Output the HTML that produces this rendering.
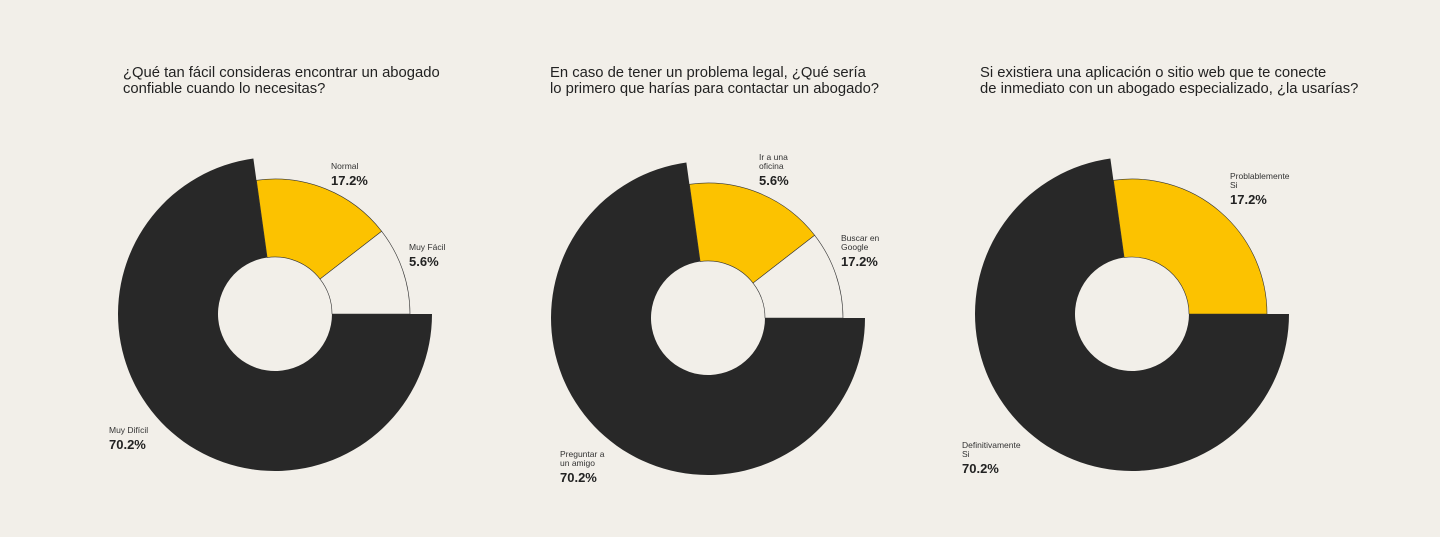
<!DOCTYPE html>
<html><head><meta charset="utf-8"><style>
html,body{margin:0;padding:0;background:#f2efe9;}
svg{display:block;font-family:"Liberation Sans",sans-serif;}
.t{font-size:14.8px;fill:#222;}
.s{font-size:8.5px;fill:#333;}
.v{font-size:13px;fill:#222;font-weight:bold;}
</style></head><body>
<svg id="c" width="1440" height="537" viewBox="0 0 1440 537">
<rect width="1440" height="537" fill="#f2efe9"/>
</svg>
<script>
const titles = [
 ["¿Qué tan fácil consideras encontrar un abogado","confiable cuando lo necesitas?"],
 ["En caso de tener un problema legal, ¿Qué sería","lo primero que harías para contactar un abogado?"],
 ["Si existiera una aplicación o sitio web que te conecte","de inmediato con un abogado especializado, ¿la usarías?"]
];
const weights1 = [72.8, 16.7, 10.5];
const weights2 = [72.8, 16.7, 10.5];
const weights3 = [72.8, 27.2];
const labels1 = [["Muy Difícil"],["Normal"],["Muy Fácil"]];
const labels2 = [["Preguntar a","un amigo"],["Ir a una","oficina"],["Buscar en","Google"]];
const labels3 = [["Definitivamente","Si"],["Problablemente","Si"]];
const values1 = ["70.2%","17.2%","5.6%"];
const values2 = ["70.2%","5.6%","17.2%"];
const values3 = ["70.2%","17.2%"];

const NS="http://www.w3.org/2000/svg";
const svg=document.getElementById('c');
function mk(tag,attrs,parent){const e=document.createElementNS(NS,tag);for(const k in attrs)e.setAttribute(k,attrs[k]);(parent||svg).appendChild(e);return e;}
const fills=["#282828","#fcc200","#f2efe9"];
const charts=[
 {cx:275,cy:314,tx:123,w:weights1,l:labels1,v:values1,lp:[[109,444],[331,180],[409,261]]},
 {cx:708,cy:318,tx:550,w:weights2,l:labels2,v:values2,lp:[[560,477],[759,180],[841,261]]},
 {cx:1132,cy:314,tx:980,w:weights3,l:labels3,v:values3,lp:[[962,468],[1230,199]]}
];
function pt(cx,cy,r,a){const rad=a*Math.PI/180;return [cx+r*Math.sin(rad),cy-r*Math.cos(rad)];}
charts.forEach((c,ci)=>{
  const g=mk('g',{});
  
  
  titles[ci].forEach((line,li)=>{
    const t=mk('text',{x:c.tx,y:77+li*16,class:'t'},g);
    
    
    t.textContent=line;
  });
  const total=c.w.reduce((a,b)=>a+b,0);
  let a=90;
  const rin=57;
  c.w.forEach((w,i)=>{
    const span=w/total*360;
    const r=i===0?157:135;
    const a2=a+span;
    const p1=pt(c.cx,c.cy,r,a),p2=pt(c.cx,c.cy,r,a2),q2=pt(c.cx,c.cy,rin,a2),q1=pt(c.cx,c.cy,rin,a);
    const lg=span>180?1:0;
    const d=`M${p1} A${r},${r} 0 ${lg} 1 ${p2} L${q2} A${rin},${rin} 0 ${lg} 0 ${q1} Z`;
    const p=mk('path',{d:d,fill:fills[i],stroke:i===0?'none':'#333','stroke-width':0.6},g);
    
    
    a=a2;
    const [lx,ly]=c.lp[i];
    const lines=c.l[i];
    lines.forEach((s,k)=>{
      const t=mk('text',{x:lx,y:ly-11-(lines.length-1-k)*9,class:'s'},g);
      
      
      t.textContent=s;
    });
    const tv=mk('text',{x:lx,y:ly+5,class:'v'},g);
    
    
    tv.textContent=c.v[i];
  });
});
</script>
</body></html>
